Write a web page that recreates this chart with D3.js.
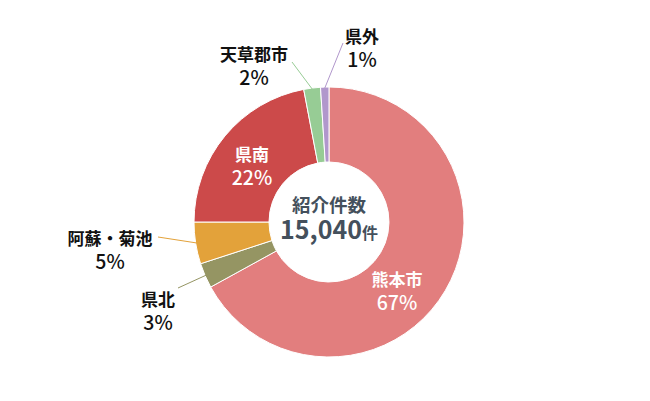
<!DOCTYPE html>
<html><head><meta charset="utf-8">
<script src="https://cdn.jsdelivr.net/npm/d3@7"></script>
<style>
html,body{margin:0;padding:0;background:#fff;}
svg text{font-family:"Noto Sans CJK JP","Noto Sans",sans-serif;}
</style></head>
<body>
<svg id="c" width="650" height="401"></svg>
<script>
const categories = ["熊本市","県北","阿蘇・菊池","県南","天草郡市","県外"];
const values = [67, 3, 5, 22, 2, 1];
const colors = ["#E27E7E","#959563","#E3A23A","#CC4A4A","#97CC95","#B197CC"];
const centerTitle = "紹介件数";
const centerTotal = "15,040";
const centerUnit = "件";

const cx = 329, cy = 222, R = 135, r0 = 60;
const svg = d3.select("#c");
const g = svg.append("g").attr("transform", `translate(${cx},${cy})`);
const pie = d3.pie().sort(null).value(d => d)(values);
const arc = d3.arc().innerRadius(r0).outerRadius(R);
g.selectAll("path").data(pie).enter().append("path")
  .attr("d", arc).attr("fill", (d,i) => colors[i])
  .attr("stroke", "#fff").attr("stroke-width", 1);

const pt = (a, rr) => [Math.sin(a)*rr, -Math.cos(a)*rr];
const mid = d => (d.startAngle + d.endAngle)/2;
const labelSpec = [
  {inside:true, x:397, y:280},
  {inside:false, x:158, y:300, lx:178, ly:288},
  {inside:false, x:110, y:239, lx:158, ly:237},
  {inside:true, x:252, y:155},
  {inside:false, x:254, y:55, lx:292, ly:62},
  {inside:false, x:362, y:37, lx:343, ly:43}
];
pie.forEach((d,i) => {
  const s = labelSpec[i];
  if (!s.inside) {
    const p = pt(mid(d), R - 1);
    svg.append("line").attr("x1", cx+p[0]).attr("y1", cy+p[1])
      .attr("x2", s.lx).attr("y2", s.ly)
      .attr("stroke", colors[i]).attr("stroke-width", 1);
  }
  const t = svg.append("text").attr("text-anchor","middle")
    .attr("fill", s.inside ? "#fff" : "#111")
    .attr("font-size", 17).attr("font-weight", 700);
  t.append("tspan").attr("x", s.x).attr("y", s.y).attr("dy","0.35em").text(categories[i]);
  t.append("tspan").attr("x", s.x).attr("y", s.y + 23).attr("dy","0.35em")
    .attr("font-weight", 500).attr("font-size", 19.5).text(values[i] + "%");
});

svg.append("text").attr("x", cx).attr("y", 206).attr("dy","0.35em")
  .attr("text-anchor","middle").attr("font-size", 18.5).attr("font-weight", 700)
  .attr("fill", "#44505C").text(centerTitle);
const t2 = svg.append("text").attr("x", cx).attr("y", 233).attr("dy","0.35em")
  .attr("text-anchor","middle").attr("fill","#44505C").attr("font-weight", 700);
t2.append("tspan").attr("font-size", 25).text(centerTotal);
t2.append("tspan").attr("font-size", 16).text(centerUnit);
</script>
</body></html>
